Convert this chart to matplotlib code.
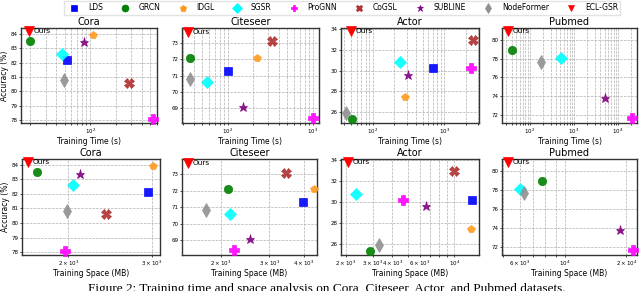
import matplotlib
matplotlib.use("Agg")
import matplotlib.pyplot as plt
import numpy as np

methods = ["LDS", "GRCN", "IDGL", "SGSR", "ProGNN", "CoGSL", "SUBLINE", "NodeFormer", "ECL-GSR"]
markers = ["s", "o", "p", "D", "P", "X", "*", "d", "v"]
colors = ["#0000ff", "#008000", "#ff9a1f", "#00ffff", "#ff00ff", "#b03030", "#800080", "#909090", "#ff0000"]
sizes = [6, 6, 6, 6.5, 6.5, 6.5, 6.5, 7, 7]

datasets = ["Cora", "Citeseer", "Actor", "Pubmed"]

# accuracy (%) per dataset, in methods order (None = not available)
acc = {
    "Cora":     [82.15, 83.5, 83.9, 82.6, 78.1, 80.6, 83.4, 80.8, 84.2],
    "Citeseer": [71.3, 72.1, 72.1, 70.6, 68.4, 73.1, 69.1, 70.8, 73.7],
    "Actor":    [30.2, 25.35, 27.45, 30.8, 30.2, 33.0, 29.6, 25.9, 33.8],
    "Pubmed":   [None, 79.0, None, 78.1, 71.6, None, 73.8, 77.7, 81.0],
}
# training time (s)
time_s = {
    "Cora":     [53, 20, 106, 47, 540, 280, 84, 49, 19],
    "Citeseer": [100, 36, 218, 57, 1000, 326, 152, 36, 34],
    "Actor":    [700, 51, 284, 242, 2400, 2530, 316, 42, 50],
    "Pubmed":   [None, 41, None, 506, 21000, None, 4980, 180, 32],
}
# training space (MB)
space_mb = {
    "Cora":     [2938, 1718, 3008, 2048, 1968, 2405, 2115, 1984, 1645],
    "Citeseer": [3966, 2122, 4350, 2152, 2226, 3453, 2560, 1762, 1514],
    "Actor":    [13100, 2866, 12900, 2334, 4678, 10000, 6590, 3274, 2064],
    "Pubmed":   [None, 7710, None, 6000, 21540, None, 18540, 6340, 5242],
}

ylims = {"Cora": (77.8, 84.4), "Citeseer": (68.1, 73.92), "Actor": (24.92, 34.12), "Pubmed": (71.1, 81.32)}
yticks = {"Cora": np.arange(78, 85, 1), "Citeseer": np.arange(69, 74, 1),
          "Actor": np.arange(26, 35, 2), "Pubmed": np.arange(72, 81, 2)}
xlims_time = {"Cora": (15.5, 600), "Citeseer": (29, 1175), "Actor": (36.3, 3060), "Pubmed": (23.9, 26700)}
xlims_space = {"Cora": (1598, 3116), "Citeseer": (1440, 4477), "Actor": (1863, 14440), "Pubmed": (4921, 22540)}

W, H = 640, 291
fig = plt.figure(figsize=(W / 100, H / 100), dpi=100)

top_boxes = [(21, 157), (182, 319), (341, 479), (502, 637)]
bot_boxes = [(22, 160), (182, 317), (341, 479), (502, 637)]
top_y = (28, 123)
bot_y = (159, 255)

def make_ax(xb, yb):
    l, r = xb
    t, b = yb
    return fig.add_axes([l / W, 1 - b / H, (r - l) / W, (b - t) / H])

def draw(ax, ds, xdata, xlim, xlabel):
    for i, m in enumerate(methods):
        x = xdata[ds][i]
        y = acc[ds][i]
        if x is None or y is None:
            continue
        ax.plot([x], [y], marker=markers[i], color=colors[i], markersize=sizes[i],
                linestyle="none", alpha=0.9 if m != "ECL-GSR" else 1.0,
                markeredgewidth=0.5, clip_on=False, zorder=3)
        if m == "ECL-GSR":
            ax.annotate("Ours", (x, y), xytext=(3.5, 0), textcoords="offset points",
                        fontsize=5.3, va="center", ha="left")
    ax.set_xscale("log")
    ax.set_xlim(*xlim)
    ax.set_ylim(*ylims[ds])
    ax.set_yticks(yticks[ds])
    ax.grid(True, which="both", linestyle="--", color="#b0b0b0", linewidth=0.5)
    ax.set_axisbelow(True)
    ax.tick_params(axis="both", which="both", labelsize=4, length=1.5, width=0.5, pad=1.2)
    ax.set_title(ds, fontsize=7, pad=2)
    ax.set_xlabel(xlabel, fontsize=5.5, labelpad=0.5)
    for s in ax.spines.values():
        s.set_linewidth(1.0)
        s.set_color("#333333")

for k, ds in enumerate(datasets):
    ax = make_ax(top_boxes[k], top_y)
    draw(ax, ds, time_s, xlims_time[ds], "Training Time (s)")
    if k == 0:
        ax.set_ylabel("Accuracy (%)", fontsize=5.5, labelpad=1)
    ax2 = make_ax(bot_boxes[k], bot_y)
    draw(ax2, ds, space_mb, xlims_space[ds], "Training Space (MB)")
    if k == 0:
        ax2.set_ylabel("Accuracy (%)", fontsize=5.5, labelpad=1)

handles = [plt.Line2D([], [], marker=markers[i], color=colors[i], linestyle="none",
                      markersize=5, markeredgewidth=0.5) for i in range(len(methods))]
fig.legend(handles, methods, loc="center", bbox_to_anchor=(0.535, 1 - 8 / H), ncol=9,
           fontsize=5.5, frameon=True, handletextpad=0.8, columnspacing=1.9,
           borderpad=0.3, fancybox=False, edgecolor="#dddddd")

fig.text(88 / W, -1.0 / H, "Figure 2: Training time and space analysis on Cora, Citeseer, Actor, and Pubmed datasets.",
         fontsize=9.5, family="Liberation Serif", ha="left", va="baseline")

fig.savefig("out.png", dpi=100)
